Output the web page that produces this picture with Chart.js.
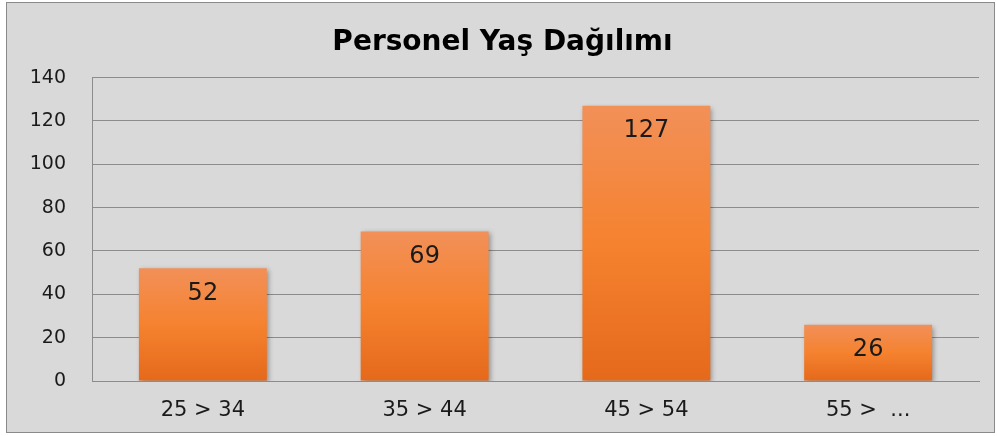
<!DOCTYPE html>
<html lang="tr">
<head>
    <meta charset="UTF-8">
    <title>Personel Yaş Dağılımı</title>
    <script src="https://cdn.jsdelivr.net/npm/chart.js@4.4.1/dist/chart.umd.min.js"></script>
    <style>
        html, body {
            margin: 0;
            padding: 0;
            background: #ffffff;
        }

        .chart-box {
            position: absolute;
            left: 6px;
            top: 2px;
            width: 987px;
            height: 429px;
            border: 1px solid #8a8a8a;
            background: #d9d9d9;
        }
    </style>
</head>
<body>
    <div class="chart-box">
        <canvas id="ageChart" width="987" height="429"></canvas>
    </div>

    <script>
        const chartTitle = 'Personel Yaş Dağılımı';
        const ageGroups = ['25 > 34', '35 > 44', '45 > 54', '55 >  ...'];
        const staffCounts = [52, 69, 127, 26];
        const yTicks = [0, 20, 40, 60, 80, 100, 120, 140];

        const fontName = "'DejaVu Sans', 'Open Sans', sans-serif";

        // gradient per bar, lighter at top
        function barGradient(context) {
            const chart = context.chart;
            const yScale = chart.scales.y;
            if (!yScale || !chart.chartArea || !context.parsed) return '#f5822e';
            const top = yScale.getPixelForValue(context.parsed.y);
            const bottom = yScale.getPixelForValue(0);
            if (!Number.isFinite(top) || !Number.isFinite(bottom) || top === bottom) return '#f5822e';
            const g = chart.ctx.createLinearGradient(0, top, 0, bottom);
            g.addColorStop(0, '#f29058');
            g.addColorStop(0.5, '#f5822f');
            g.addColorStop(1, '#e5691b');
            return g;
        }

        // soft shadow under bars
        const barShadow = {
            id: 'barShadow',
            beforeDatasetsDraw(chart) {
                const ctx = chart.ctx;
                ctx.save();
                ctx.shadowColor = 'rgba(0, 0, 0, 0.35)';
                ctx.shadowBlur = 5;
                ctx.shadowOffsetX = 2;
                ctx.shadowOffsetY = 2;
            },
            afterDatasetsDraw(chart) {
                chart.ctx.restore();
            }
        };

        // value labels inside the top of each bar
        const valueLabels = {
            id: 'valueLabels',
            afterDatasetsDraw(chart) {
                const ctx = chart.ctx;
                const meta = chart.getDatasetMeta(0);
                ctx.save();
                ctx.font = '24px ' + fontName;
                ctx.fillStyle = '#1a1a1a';
                ctx.textAlign = 'center';
                ctx.textBaseline = 'middle';
                meta.data.forEach((bar, i) => {
                    ctx.fillText(String(staffCounts[i]), bar.x, bar.y + 25);
                });
                ctx.restore();
            }
        };

        new Chart(document.getElementById('ageChart'), {
            type: 'bar',
            data: {
                labels: ageGroups,
                datasets: [{
                    data: staffCounts,
                    backgroundColor: barGradient,
                    borderWidth: 0,
                    categoryPercentage: 0.577,
                    barPercentage: 1
                }]
            },
            options: {
                responsive: false,
                animation: false,
                layout: {
                    padding: { left: 19, right: 15, top: 0, bottom: 0 }
                },
                plugins: {
                    legend: { display: false },
                    tooltip: { enabled: false },
                    title: {
                        display: true,
                        text: chartTitle,
                        color: '#000000',
                        font: { family: fontName, size: 28, weight: 'bold' },
                        padding: { top: 23, bottom: 18 }
                    }
                },
                scales: {
                    x: {
                        grid: { display: false, drawTicks: false },
                        border: { display: true, color: '#8c8c8c', width: 1 },
                        ticks: {
                            color: '#1a1a1a',
                            font: { family: fontName, size: 21 },
                            padding: 17
                        },
                        afterFit(scale) {
                            scale.height = 51;
                        }
                    },
                    y: {
                        min: 0,
                        max: 140,
                        afterBuildTicks(scale) {
                            scale.ticks = yTicks.map(v => ({ value: v }));
                        },
                        grid: { color: '#8c8c8c', lineWidth: 1, drawTicks: false },
                        border: { display: true, color: '#8c8c8c', width: 1 },
                        ticks: {
                            color: '#1a1a1a',
                            font: { family: fontName, size: 19 },
                            padding: 26
                        },
                        afterFit(scale) {
                            scale.width = 66;
                        }
                    }
                }
            },
            plugins: [barShadow, valueLabels]
        });
    </script>
</body>
</html>
